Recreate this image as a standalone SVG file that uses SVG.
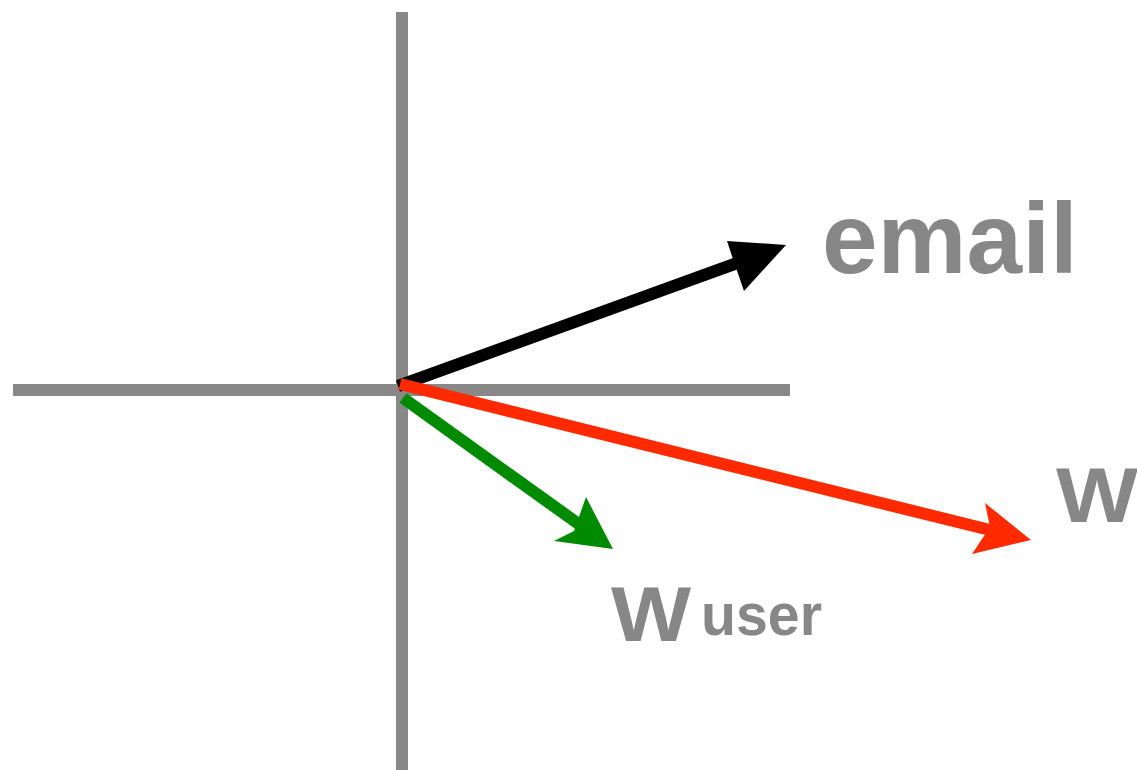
<svg xmlns="http://www.w3.org/2000/svg" width="1137" height="770" viewBox="0 0 1137 770">
<style>
.axis{stroke:#888888;stroke-width:12;fill:none}
.shaft{stroke-width:12;fill:none}
.lbl{font-family:"Liberation Sans",Arial,sans-serif;font-weight:bold;fill:#878787}
</style>
<rect width="1137" height="770" fill="#ffffff"/>
<g id="axes">
<line class="axis" x1="402" y1="12" x2="402" y2="770"/>
<line class="axis" x1="13" y1="390" x2="790" y2="390"/>
</g>
<g id="connectors">
<g id="vec-email">
<line class="shaft" stroke="#000000" x1="398" y1="386" x2="740" y2="262"/>
<polygon fill="#000000" points="786,245 727,241 734,262 744,291"/>
</g>
<g id="vec-w">
<line class="shaft" stroke="#ff2a00" x1="400" y1="384" x2="990" y2="530"/>
<polygon fill="#ff2a00" points="1031,540 985,503 990,527 972,554"/>
</g>
<g id="vec-wuser">
<line class="shaft" stroke="#008a00" x1="403" y1="398" x2="580" y2="525"/>
<polygon fill="#008a00" points="613,549 586,497 574,531 554,541"/>
</g>
</g>
<g id="label-email"><text class="lbl" x="822" y="273" font-size="100">email</text></g>
<g id="label-w"><text class="lbl" x="1056" y="522" font-size="78" textLength="82" lengthAdjust="spacingAndGlyphs">W</text></g>
<g id="label-wuser"><text class="lbl" x="611" y="641" font-size="78" textLength="80" lengthAdjust="spacingAndGlyphs">W</text><text class="lbl" x="701" y="635" font-size="60" textLength="121" lengthAdjust="spacingAndGlyphs">user</text></g>
</svg>
